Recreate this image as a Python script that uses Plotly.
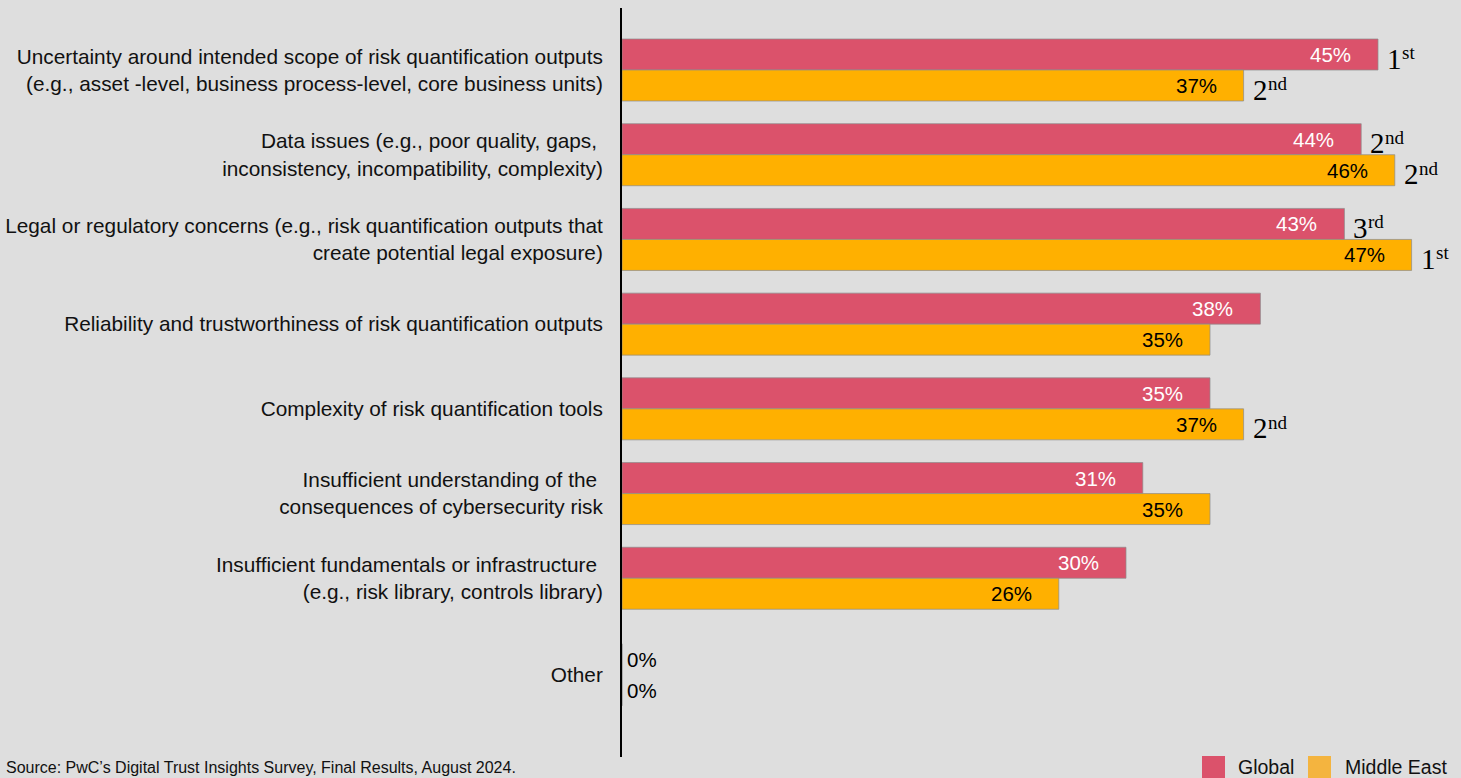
import plotly.graph_objects as go

# ---- data ----
categories = [
    "Uncertainty around intended scope of risk quantification outputs<br>(e.g., asset -level, business process-level, core business units)",
    "Data issues (e.g., poor quality, gaps, <br>inconsistency, incompatibility, complexity)",
    "Legal or regulatory concerns (e.g., risk quantification outputs that<br>create potential legal exposure)",
    "Reliability and trustworthiness of risk quantification outputs",
    "Complexity of risk quantification tools",
    "Insufficient understanding of the <br>consequences of cybersecurity risk",
    "Insufficient fundamentals or infrastructure <br>(e.g., risk library, controls library)",
    "Other",
]
global_pct = [45, 44, 43, 38, 35, 31, 30, 0]
middle_east_pct = [37, 46, 47, 35, 37, 35, 26, 0]
global_rank = ["1st", "2nd", "3rd", "", "", "", "", ""]
middle_east_rank = ["2nd", "2nd", "1st", "", "2nd", "", "", ""]
series_names = ["Global", "Middle East"]
source_note = "Source: PwC\u2019s Digital Trust Insights Survey, Final Results, August 2024."

# row slots: "Other" sits a little further down, set apart from the rest
row_pos = [0, 1, 2, 3, 4, 5, 6, 7.14]

# ---- styling ----
W, H = 1461, 778
BG = "#dedede"
RED = "#db526b"
GOLD = "#ffb000"
GOLD_KEY = "#f4b43f"
SANS = "Liberation Sans, Arial, Helvetica"
SERIF = "Liberation Serif, Times New Roman, serif"
PLOT_L, PLOT_R, PLOT_T, PLOT_B = 622, 1461, 8, 757
PX_PER_PCT = 16.8
X_MAX = (PLOT_R - PLOT_L) / PX_PER_PCT
EDGE = dict(color="rgba(140,140,140,0.7)", width=1)


def px_x(px):
    return (px - PLOT_L) / (PLOT_R - PLOT_L)


def px_y(py):
    return (PLOT_B - py) / (PLOT_B - PLOT_T)


fig = go.Figure()
fig.add_trace(go.Bar(
    y=row_pos, x=global_pct, orientation="h", name=series_names[0],
    marker=dict(color=RED, line=EDGE), showlegend=False, hoverinfo="skip",
))
fig.add_trace(go.Bar(
    y=row_pos, x=middle_east_pct, orientation="h", name=series_names[1],
    marker=dict(color=GOLD, line=EDGE), showlegend=False, hoverinfo="skip",
))

annotations = []
BAR_OFFSET = 0.183  # half-distance between the two bar centres, in row units

for i, yrow in enumerate(row_pos):
    for vals, ranks, off, tcolor in (
        (global_pct, global_rank, -BAR_OFFSET, "white"),
        (middle_east_pct, middle_east_rank, BAR_OFFSET, "black"),
    ):
        v = vals[i]
        yc = yrow + off
        if v > 0:
            annotations.append(dict(
                x=v, y=yc, xref="x", yref="y", text=f"{v}%", showarrow=False,
                xanchor="right", yanchor="middle", xshift=-25,
                font=dict(family=SANS, size=20.5, color=tcolor),
            ))
        else:
            annotations.append(dict(
                x=v, y=yc, xref="x", yref="y", text=f"{v}%", showarrow=False,
                xanchor="left", yanchor="middle", xshift=3,
                font=dict(family=SANS, size=20.5, color="black"),
            ))
        r = ranks[i]
        if r:
            # ordinal number: large digit followed by a raised suffix
            annotations.append(dict(
                x=v, y=yc, xref="x", yref="y", text=r[:-2], showarrow=False,
                xanchor="left", yanchor="middle", xshift=7, yshift=-4,
                font=dict(family=SERIF, size=29, color="black"),
            ))
            annotations.append(dict(
                x=v, y=yc, xref="x", yref="y", text=r[-2:], showarrow=False,
                xanchor="left", yanchor="middle", xshift=22, yshift=2,
                font=dict(family=SERIF, size=19, color="black"),
            ))

# legend keys and labels under the plot, plus the source line
shapes = [
    dict(type="rect", xref="paper", yref="paper",
         x0=px_x(1202), x1=px_x(1225), y0=px_y(778), y1=px_y(756),
         fillcolor=RED, line=dict(width=0)),
    dict(type="rect", xref="paper", yref="paper",
         x0=px_x(1308), x1=px_x(1331), y0=px_y(778), y1=px_y(756),
         fillcolor=GOLD_KEY, line=dict(width=0)),
]
annotations += [
    dict(x=px_x(1236), y=px_y(767), xref="paper", yref="paper", text=series_names[0],
         showarrow=False, xanchor="left", yanchor="middle",
         font=dict(family=SANS, size=19.5, color="#111")),
    dict(x=px_x(1343), y=px_y(767), xref="paper", yref="paper", text=series_names[1],
         showarrow=False, xanchor="left", yanchor="middle",
         font=dict(family=SANS, size=19.5, color="#111")),
    dict(x=px_x(4), y=px_y(767), xref="paper", yref="paper", text=source_note,
         showarrow=False, xanchor="left", yanchor="middle",
         font=dict(family=SANS, size=16, color="#111")),
]

fig.update_layout(
    width=W, height=H,
    margin=dict(l=PLOT_L, r=W - PLOT_R, t=PLOT_T, b=H - PLOT_B, pad=0),
    paper_bgcolor=BG, plot_bgcolor=BG,
    barmode="group", bargap=0.268, bargroupgap=0,
    annotations=annotations, shapes=shapes,
    xaxis=dict(range=[0, X_MAX], showgrid=False, zeroline=False,
               showticklabels=False, showline=False, ticks=""),
    yaxis=dict(range=[8.11, -0.732], autorange=False,
               tickmode="array", tickvals=row_pos, ticktext=categories,
               showgrid=False, zeroline=False,
               showline=True, linecolor="black", linewidth=2,
               ticks="outside", ticklen=13, tickcolor="rgba(0,0,0,0)",
               tickfont=dict(family=SANS, size=20.8, color="#111")),
    font=dict(family=SANS),
)

fig.write_html("out.html")
